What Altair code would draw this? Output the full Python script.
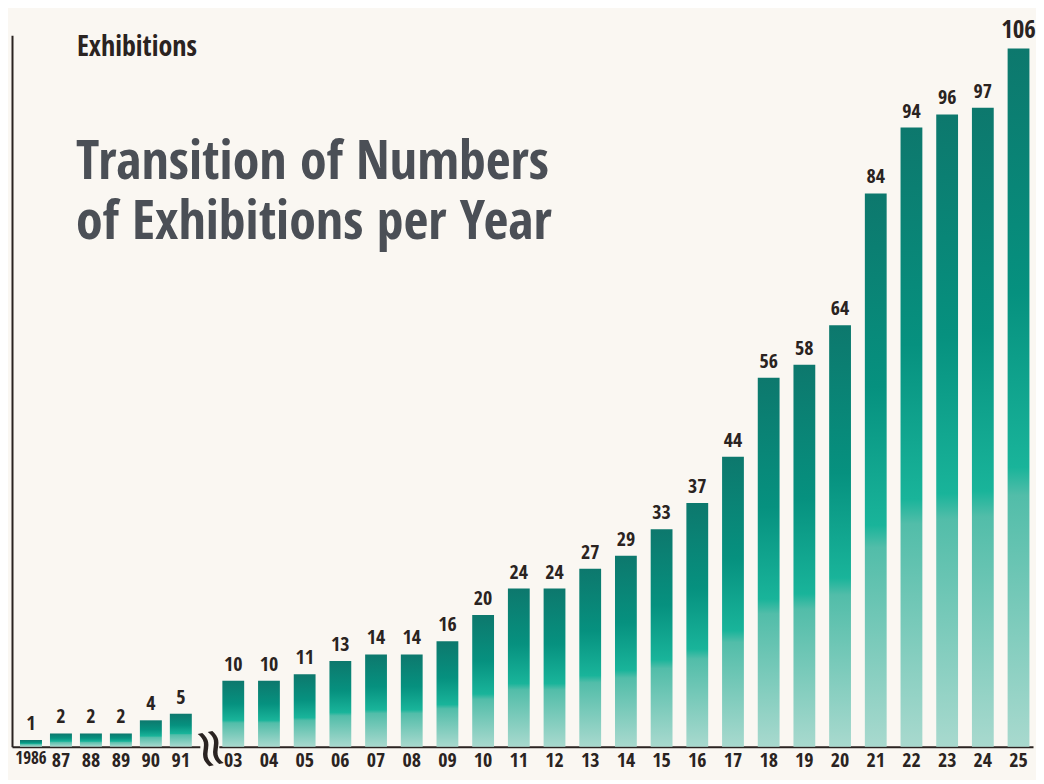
import altair as alt
import pandas as pd

# ---- data ----
years_early = ["1986", "87", "88", "89", "90", "91"]
counts_early = [1, 2, 2, 2, 4, 5]
years_late = ["03", "04", "05", "06", "07", "08", "09", "10", "11", "12", "13", "14",
              "15", "16", "17", "18", "19", "20", "21", "22", "23", "24", "25"]
counts_late = [10, 10, 11, 13, 14, 14, 16, 20, 24, 24, 27, 29,
               33, 37, 44, 56, 58, 64, 84, 94, 96, 97, 106]

title_lines = ["Transition of Numbers", "of Exhibitions per Year"]
y_label = "Exhibitions"

df_early = pd.DataFrame({"year": years_early, "count": counts_early})
df_late = pd.DataFrame({"year": years_late, "count": counts_late})

FONT = "Open Sans Condensed"
DARK = "#2a2321"
BG = "#faf7f2"
H = 712
YMAX = 108

grad = alt.Gradient(
    gradient="linear", x1=0, x2=0, y1=0, y2=1,
    stops=[
        alt.GradientStop(color="#0d786d", offset=0),
        alt.GradientStop(color="#06917f", offset=0.35),
        alt.GradientStop(color="#19b49a", offset=0.6),
        alt.GradientStop(color="#52bda9", offset=0.64),
        alt.GradientStop(color="#a8d9ce", offset=1),
    ],
)


def panel(df, width, pin, pout, show_y):
    x = alt.X("year:N", sort=None,
              scale=alt.Scale(paddingInner=pin, paddingOuter=pout),
              axis=alt.Axis(title=None, labelAngle=0, ticks=False,
                            domainColor=DARK, domainWidth=2,
                            labelFont=FONT,
                            labelFontSize={"condition": {"test": "datum.value === '1986'",
                                                         "value": 17},
                                           "value": 20},
                            labelFontWeight=600,
                            labelColor=DARK, labelPadding=4))
    if show_y:
        yax = alt.Axis(title=None, labels=False, ticks=False, grid=False,
                       domainColor=DARK, domainWidth=2)
    else:
        yax = None
    y = alt.Y("count:Q", scale=alt.Scale(domain=[0, YMAX], nice=False), axis=yax)
    base = alt.Chart(df)
    bars = base.mark_bar(color=grad).encode(x=x, y=y)
    labels = base.mark_text(baseline="bottom", dy=-6, font=FONT,
                            fontWeight="bold", color=DARK).encode(
        x=x, y=y, text="count:Q",
        size=alt.condition("datum.count >= 100", alt.value(25), alt.value(20)),
    )
    return alt.layer(bars, labels).properties(width=width, height=H)


left = panel(df_early, 188, 0.267, 0.267, True)
right = panel(df_late, 815, 0.389, 0.1, False)

# decorations in the left panel: axis label, title lines, axis break glyph
ylab = alt.Chart(pd.DataFrame({"t": [y_label]})).mark_text(
    align="left", baseline="alphabetic", font=FONT, fontSize=28,
    fontWeight=600, color=DARK
).encode(x=alt.value(65), y=alt.value(21), text="t:N")

ttl1 = alt.Chart(pd.DataFrame({"t": [title_lines[0]]})).mark_text(
    align="left", baseline="alphabetic", font=FONT, fontSize=54,
    fontWeight="bold", color="#4b4f56"
).encode(x=alt.value(64), y=alt.value(144), text="t:N")

ttl2 = alt.Chart(pd.DataFrame({"t": [title_lines[1]]})).mark_text(
    align="left", baseline="alphabetic", font=FONT, fontSize=54,
    fontWeight="bold", color="#4b4f56"
).encode(x=alt.value(64), y=alt.value(204), text="t:N")

brk = alt.Chart(pd.DataFrame({"t": ["\u2248"]})).mark_text(
    align="center", baseline="middle", font="DejaVu Sans", fontSize=54,
    angle=78, color=DARK
).encode(x=alt.value(198), y=alt.value(H + 2), text="t:N")

left_full = alt.layer(left, ylab, ttl1, ttl2, brk)

chart = alt.hconcat(left_full, right, spacing=19, bounds="flush").properties(
    padding={"left": 4, "top": 9, "right": 0, "bottom": 3},
    background=BG,
).configure_view(stroke=None)

chart.save("out.html", embed_options={"renderer": "svg", "actions": False})
